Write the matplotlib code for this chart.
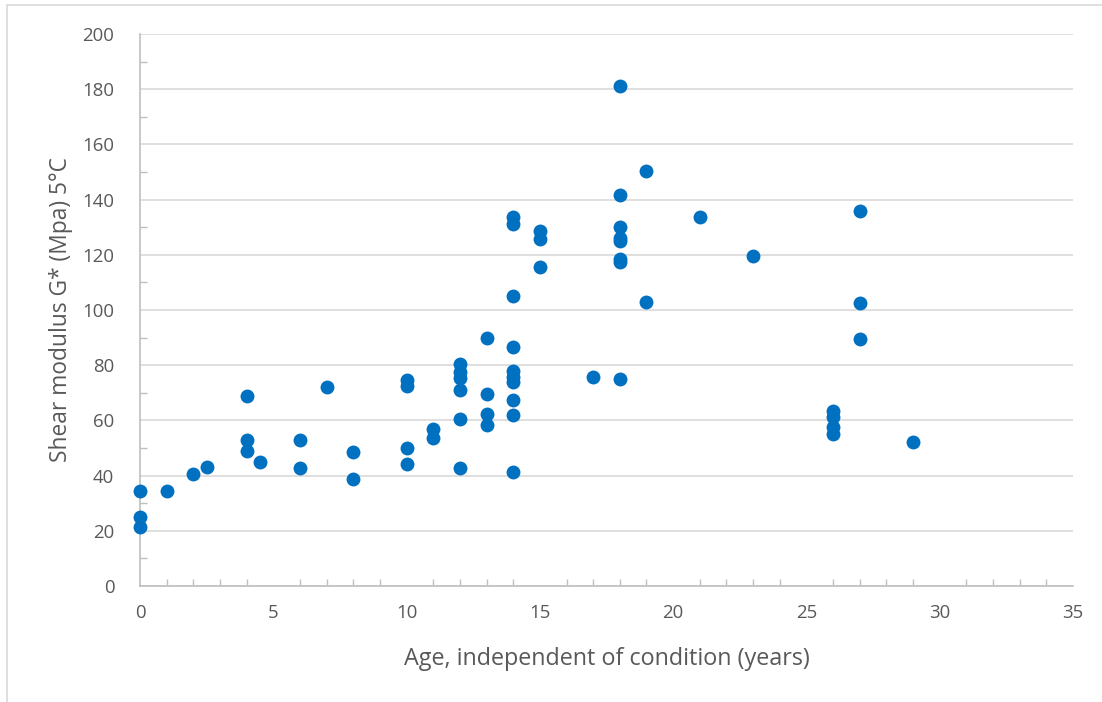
import matplotlib
matplotlib.use("Agg")
import matplotlib.pyplot as plt
from matplotlib.patches import Rectangle
from matplotlib.ticker import MultipleLocator

# age (years) and shear modulus G* (MPa) at 5 C
age = [0, 0, 0, 1, 2, 2.5, 4, 4, 4, 4.5, 6, 6, 7, 8, 8,
       10, 10, 10, 10, 11, 11,
       12, 12, 12, 12, 12, 12,
       13, 13, 13, 13,
       14, 14, 14, 14, 14, 14, 14, 14, 14, 14,
       15, 15, 15, 17,
       18, 18, 18, 18, 18, 18, 18, 18,
       19, 19, 21, 23, 26, 26, 26, 26, 27, 27, 27, 29]
modulus = [34.5, 25, 21.5, 34.5, 40.5, 43, 69, 53, 48.8, 45, 53, 42.8, 72, 48.4, 38.7,
           74.5, 72.3, 50, 44.2, 57, 53.6,
           80.3, 77.7, 75.3, 71, 60.4, 42.9,
           89.7, 69.4, 62.5, 58.3,
           133.7, 131.3, 105.1, 86.5, 77.9, 75.8, 73.8, 67.4, 62, 41.3,
           128.7, 125.7, 115.6, 75.8,
           181.3, 141.5, 130.2, 126.2, 124.9, 118.6, 117.4, 75,
           150.5, 103, 133.7, 119.5, 63.3, 61.2, 57.7, 55.2, 135.7, 102.5, 89.4, 52.2]

TXT = "#595959"
plt.rcParams["font.family"] = ["Open Sans", "DejaVu Sans"]

fig = plt.figure(figsize=(11.02, 7.02), dpi=100)
fig.patches.append(Rectangle((7 / 1102, -0.01), 1.1, 1 - 5 / 702 + 0.01,
                             transform=fig.transFigure, fill=False,
                             edgecolor="#D9D9D9", linewidth=1.2))

ax = fig.add_axes([140 / 1102, 1 - 586 / 702, 933 / 1102, 552 / 702])
ax.scatter(age, modulus, s=100, color="#0070C0", zorder=3, linewidths=0, clip_on=False)

ax.set_xlim(0, 35)
ax.set_ylim(0, 200)
ax.xaxis.set_major_locator(MultipleLocator(5))
ax.xaxis.set_minor_locator(MultipleLocator(1))
ax.yaxis.set_major_locator(MultipleLocator(20))
ax.yaxis.set_minor_locator(MultipleLocator(10))

ax.grid(axis="y", which="major", color="#D9D9D9", linewidth=1.2, zorder=0)
for s in ["top", "right"]:
    ax.spines[s].set_visible(False)
for s in ["left", "bottom"]:
    ax.spines[s].set_color("#BFBFBF")
    ax.spines[s].set_linewidth(1.2)

ax.tick_params(which="major", length=0, labelsize=13.4, colors=TXT)
ax.tick_params(axis="y", which="major", pad=18.5)
ax.tick_params(axis="x", which="major", pad=13)
ax.tick_params(which="minor", direction="in", length=5, color="#BFBFBF", width=1)

ax.set_xlabel("Age, independent of condition (years)", fontsize=16.8, color=TXT, labelpad=18)
ax.set_ylabel("Shear modulus G* (Mpa) 5°C", fontsize=16.4, color=TXT, labelpad=7)

fig.savefig("out.png", dpi=100)
